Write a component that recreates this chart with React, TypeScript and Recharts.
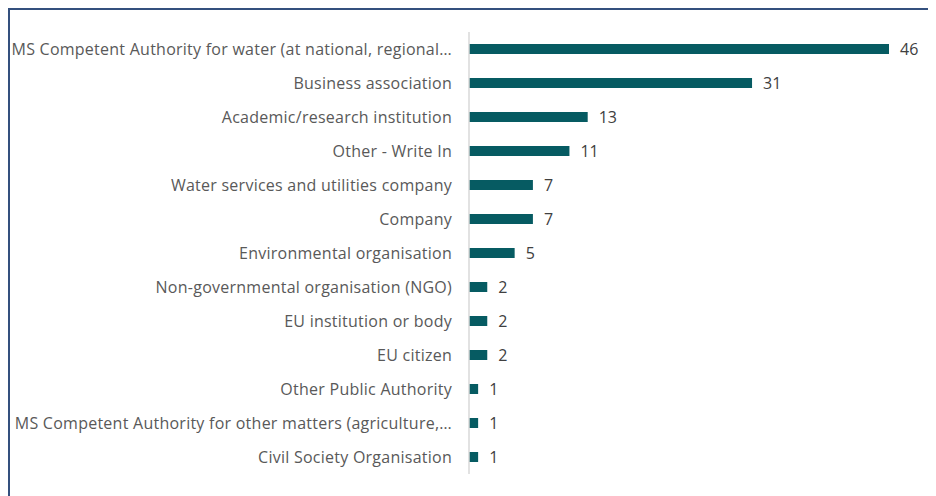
import { BarChart, Bar, XAxis, YAxis, LabelList } from 'recharts'

const categories = [
  'MS Competent Authority for water (at national, regional…',
  'Business association',
  'Academic/research institution',
  'Other - Write In',
  'Water services and utilities company',
  'Company',
  'Environmental organisation',
  'Non-governmental organisation (NGO)',
  'EU institution or body',
  'EU citizen',
  'Other Public Authority',
  'MS Competent Authority for other matters (agriculture,…',
  'Civil Society Organisation',
]

const counts = [46, 31, 13, 11, 7, 7, 5, 2, 2, 2, 1, 1, 1]

const BAR_COLOR = '#065b62'
const FONT = '"Open Sans", Lato, sans-serif'

export default function App() {
  const data = categories.map((name, i) => ({ name, value: counts[i] }))

  return (
    <div
      style={{
        position: 'relative',
        width: 940,
        height: 500,
        borderTop: '2px solid #34507e',
        borderLeft: '2px solid #34507e',
        boxSizing: 'border-box',
      }}
    >
      <div style={{ position: 'absolute', left: -2, top: -2 }}>
        <BarChart
          width={928}
          height={488}
          data={data}
          layout="vertical"
          margin={{ top: 24, right: 47, bottom: 22, left: 0 }}
          barCategoryGap={22}
        >
          <XAxis type="number" domain={[0, 46]} hide />
          <YAxis
            type="category"
            dataKey="name"
            width={461}
            interval={0}
            axisLine={{ stroke: '#d9d9d9', strokeWidth: 1.5 }}
            tickLine={false}
            tickSize={0}
            tickMargin={17}
            tick={{ fill: '#595959', fontSize: 16, fontFamily: FONT, letterSpacing: 0.25 }}
          />
          <Bar dataKey="value" fill={BAR_COLOR} isAnimationActive={false}>
            <LabelList
              dataKey="value"
              position="right"
              offset={11}
              fill="#404040"
              fontSize={16}
              fontFamily={FONT}
            />
          </Bar>
        </BarChart>
      </div>
    </div>
  )
}
